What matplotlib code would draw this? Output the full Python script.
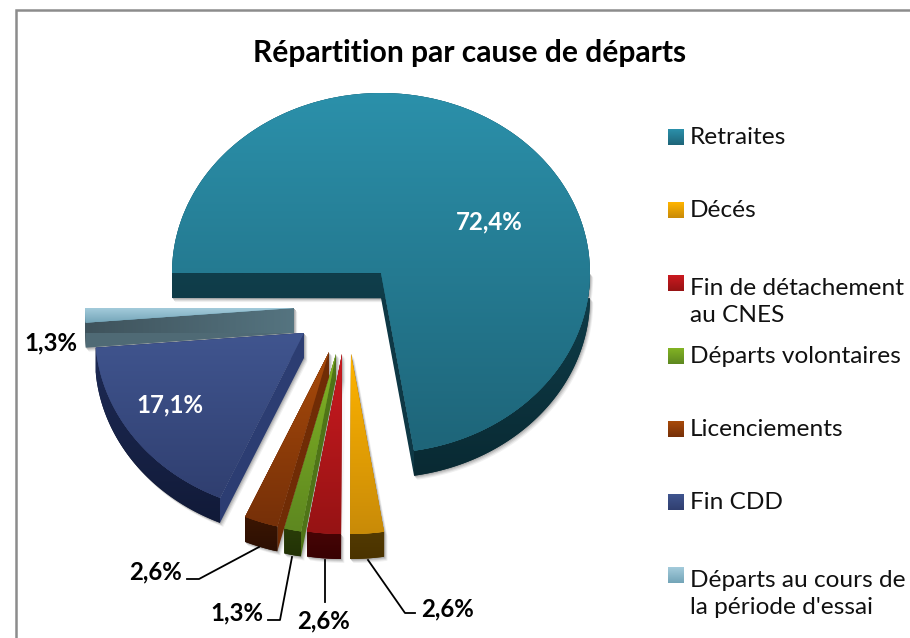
import numpy as np
import matplotlib
matplotlib.use("Agg")
import matplotlib.pyplot as plt
from matplotlib.colors import to_rgb
from matplotlib.patches import Polygon

plt.rcParams['font.family'] = ['Lato', 'DejaVu Sans']

# data
title = "Répartition par cause de départs"
causes = ["Retraites", "Décés", "Fin de détachement\nau CNES", "Départs volontaires",
          "Licenciements", "Fin CDD", "Départs au cours de\nla période d'essai"]
shares = [72.4, 2.6, 2.6, 1.3, 2.6, 17.1, 1.3]

# look
top_light = ["#2b90aa", "#ffb400", "#cb1a20", "#82b324", "#a84a0a", "#40558f", "#a3cbdb"]
top_dark = ["#1e6579", "#c98b08", "#961314", "#5e8820", "#763008", "#303f70", "#74a5b8"]
arc_light = ["#103e4b", "#533a02", "#470405", "#2a3d08", "#3c1603", "#1e2b56", "#3f545d"]
arc_dark = ["#092a33", "#4a3300", "#380203", "#223206", "#2c0f02", "#111a38", "#3f545d"]
edge_col = ["#0e3845", "#8a5f05", "#7a0f10", "#4f7417", "#702c05", "#2c3d72", "#4f6a75"]

# picture layout, in pixels
W, H = 910, 638
cx, cy, rx, ry, depth = 381, 273, 209, 180, 25
offsets = [(0, 0), (-30, 81), (-39, 81), (-45, 81), (-52, 79), (-77, 60), (-87, 35)]
label_pos = [(489, 222), (448, 609), (323, 621), (237, 613), (156, 572), (170, 405), (51, 343)]
label_col = ["white", "black", "black", "black", "black", "white", "black"]
leaders = [[(368, 560), (405, 613), (415, 613)],
           [(325, 560), (325, 602)],
           [(292, 557), (280, 620), (268, 620)],
           [(259, 547), (199, 579), (187, 579)]]
legend_y = [137, 210, 283, 356, 429, 502, 575]

fig = plt.figure(figsize=(W / 100, H / 100), dpi=100)
pie_ax = fig.add_axes([0, 0, 1, 1])
wedges, _ = pie_ax.pie(shares, startangle=180, counterclock=False, colors=top_dark)
pie_ax.set_aspect('auto')
pie_ax.set_xlim(-cx / rx, (W - cx) / rx)
pie_ax.set_ylim((cy - H) / ry, cy / ry)
pie_ax.set_autoscale_on(False)

ax = fig.add_axes([0, 0, 1, 1], zorder=5)
ax.set_xlim(0, W)
ax.set_ylim(H, 0)
ax.patch.set_visible(False)
ax.axis('off')


def gradient(a, pts, c1, c2, z, horizontal=False):
    pts = np.array(pts)
    poly = Polygon(pts, closed=True, fc=c2, ec='none', zorder=z)
    a.add_patch(poly)
    ramp = np.linspace(to_rgb(c1), to_rgb(c2), 64)[:, None, :]
    if horizontal:
        ramp = ramp.transpose(1, 0, 2)
    x0, x1 = pts[:, 0].min(), pts[:, 0].max()
    y0, y1 = pts[:, 1].min(), pts[:, 1].max()
    im = a.imshow(ramp, extent=(x0, x1, y0, y1), aspect='auto', zorder=z + 0.01,
                  interpolation='bilinear')
    im.set_clip_path(poly)


dz = depth / ry
for i, w in enumerate(wedges):
    ox, oy = offsets[i]
    c = np.array([ox / rx, -oy / ry])
    w.set_center(c)
    t = np.radians(np.linspace(w.theta1, w.theta2, 240))
    arc = c + np.c_[np.cos(t), np.sin(t)]
    top = np.vstack([c, arc])
    down = np.array([0, dz])

    # outer wall, only the part facing the viewer
    front = arc[np.sin(t) <= 0]
    wall = np.vstack([front, (front - down)[::-1]])
    # radial walls
    side1 = np.array([c, arc[0], arc[0] - down, c - down])
    side2 = np.array([c, arc[-1], arc[-1] - down, c - down])

    # soft shadow first
    for k, grey in zip([4, 3, 2, 1], ["#f0f0f0", "#dddddd", "#c6c6c6", "#b0b0b0"]):
        s = np.array([k * 0.8 / rx, -k / ry])
        for part in (wall, side1, side2):
            pie_ax.add_patch(Polygon(part + s, closed=True, fc=grey, ec='none', zorder=1 - k * 0.1))

    z = 10 + i
    if i == 6:
        gradient(pie_ax, side1, "#3f535c", "#557480", z + 0.1, horizontal=True)
    else:
        pie_ax.add_patch(Polygon(side1, closed=True, fc=edge_col[i], ec='none', zorder=z + 0.1))
    if i == 0:
        # the flat wall under the left radius of the big slice
        pie_ax.add_patch(Polygon(side2, closed=True, fc="#144552", ec='none', zorder=z + 0.1))
    else:
        pie_ax.add_patch(Polygon(side2, closed=True, fc=edge_col[i], ec='none', zorder=z + 0.1))
    gradient(pie_ax, wall, arc_light[i], arc_dark[i], z + 0.2)
    w.set_zorder(z + 0.4)
    gradient(pie_ax, top, top_light[i], top_dark[i], z + 0.5)

# frame of the chart area, runs off the picture on the right and at the bottom
ax.plot([16, 16, W + 5], [H + 5, 10, 10], color="#8c8c8c", lw=1.8, clip_on=False,
        solid_joinstyle='miter')

ax.text(470, 53, title, ha='center', va='center', fontsize=21.6, fontweight='bold', color='black')

for i, v in enumerate(shares):
    x, y = label_pos[i]
    ax.text(x, y, f"{v:.1f}".replace('.', ',') + "%", ha='center', va='center',
            fontsize=17.3, fontweight='bold', color=label_col[i])

for line in leaders:
    xs, ys = zip(*line)
    ax.plot(xs, ys, color='black', lw=1.3)

for i, name in enumerate(causes):
    y = legend_y[i]
    ramp = np.linspace(to_rgb(top_light[i]), to_rgb(top_dark[i]), 32)[:, None, :]
    ax.imshow(ramp, extent=(668, 684, y + 8, y - 8), aspect='auto', interpolation='bilinear')
    ax.text(690, y + 7 + 32 * name.count("\n"), name, ha='left', va='baseline',
            fontsize=17.6, color='#111111', linespacing=1.36)
ax.set_xlim(0, W)
ax.set_ylim(H, 0)

fig.savefig("out.png", dpi=100)
